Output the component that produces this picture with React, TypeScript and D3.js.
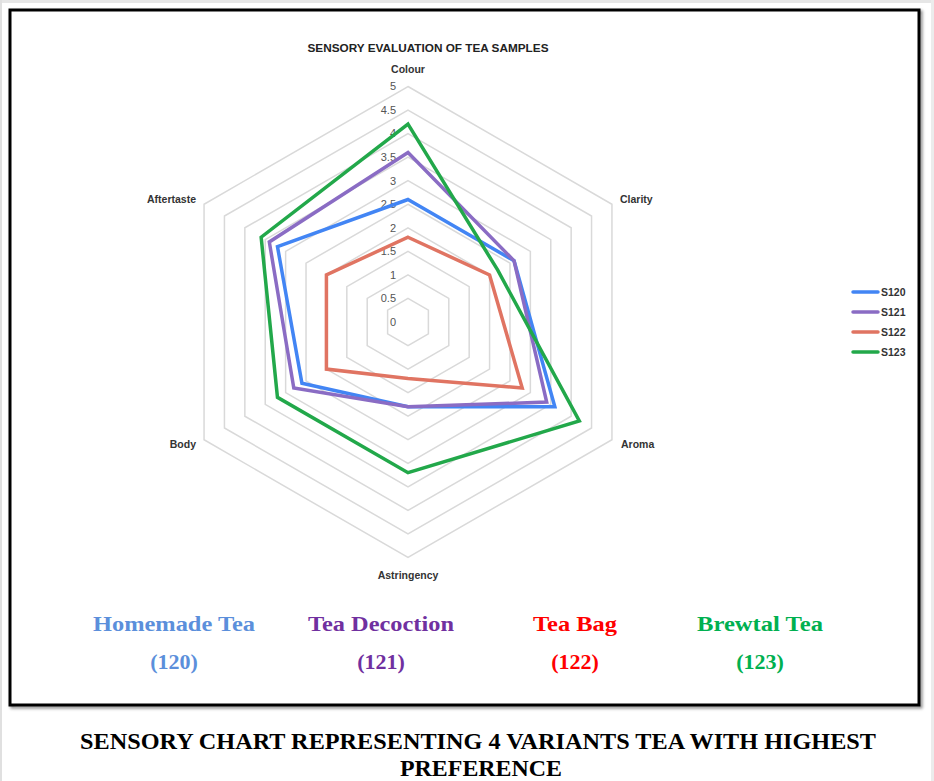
import React from "react";
import * as d3 from "d3";

const axes = ["Colour", "Clarity", "Aroma", "Astringency", "Body", "Aftertaste"];
const seriesNames = ["S120", "S121", "S122", "S123"];
const s120 = [2.6, 2.6, 3.6, 1.8, 2.6, 3.2];
const s121 = [3.6, 2.6, 3.4, 1.8, 2.8, 3.4];
const s122 = [1.8, 2.0, 2.8, 1.2, 2.0, 2.0];
const s123 = [4.2, 2.2, 4.2, 3.2, 3.2, 3.6];
const seriesValues = [s120, s121, s122, s123];
const seriesColors = ["#4285F4", "#8A6CC4", "#E07462", "#22A84A"];
const tickValues = [0, 0.5, 1, 1.5, 2, 2.5, 3, 3.5, 4, 4.5, 5];
const variantNames = ["Homemade Tea", "Tea Decoction", "Tea Bag", "Brewtal Tea"];
const variantCodes = ["(120)", "(121)", "(122)", "(123)"];
const variantColors = ["#5B8FDB", "#7030A0", "#FF0000", "#00B050"];

export default function App() {
  const W = 934, H = 781;
  const cx = 408, cy = 322;
  const r = d3.scaleLinear().domain([0, 5]).range([0, 235.5]);
  const angle = d3.scalePoint<string>().domain(axes).range([0, (2 * Math.PI * 5) / 6]);
  const pt = (ax: string, v: number): [number, number] => {
    const a = angle(ax)!;
    return [cx + r(v) * Math.sin(a), cy - r(v) * Math.cos(a)];
  };
  const closed = d3.line<[number, number]>().curve(d3.curveLinearClosed);

  const gridLevels = tickValues.filter((t) => t > 0);
  const labelPos: Record<string, { x: number; y: number; anchor: string }> = {
    Colour: { x: 408, y: 69, anchor: "middle" },
    Clarity: { x: 620, y: 199, anchor: "start" },
    Aroma: { x: 621, y: 444, anchor: "start" },
    Astringency: { x: 408, y: 575, anchor: "middle" },
    Body: { x: 196, y: 444, anchor: "end" },
    Aftertaste: { x: 196, y: 199, anchor: "end" },
  };
  const variantX = [174, 381, 575, 760];
  const variantW = [162, 146, 84, 126];

  return (
    <svg
      width={W}
      height={H}
      viewBox={`0 0 ${W} ${H}`}
      style={{ position: "fixed", left: 0, top: 0, background: "#fff" }}
    >
      <defs>
        <filter id="sh" x="-5%" y="-5%" width="110%" height="110%">
          <feGaussianBlur stdDeviation="1.5" />
        </filter>
      </defs>
      <rect x={0} y={0} width={W} height={3} fill="#e6e6e6" />
      <rect x={0} y={0} width={2} height={H} fill="#e0e0e0" />
      <rect x={931} y={0} width={3} height={H} fill="#ececec" />
      {/* frame */}
      <rect x={12} y={12} width={909} height={695} fill="none" stroke="#888" strokeWidth={3} filter="url(#sh)" />
      <rect x={10} y={10} width={909} height={695} fill="#fff" stroke="#000" strokeWidth={3} />

      {/* chart title */}
      <text x={428} y={52} textAnchor="middle" fontFamily="Arial, Liberation Sans, sans-serif" fontWeight="bold" fontSize={10.5} fill="#222" textLength={241} lengthAdjust="spacingAndGlyphs">
        SENSORY EVALUATION OF TEA SAMPLES
      </text>

      {/* grid */}
      {gridLevels.map((lv) => (
        <path key={lv} d={closed(axes.map((a) => pt(a, lv)))!} fill="none" stroke="#d9d9d9" strokeWidth={1.5} />
      ))}

      {/* tick labels */}
      {tickValues.map((t) => (
        <text key={t} x={396} y={cy - r(t)} dy="0.35em" textAnchor="end" fontFamily="Arial, Liberation Sans, sans-serif" fontSize={11} fill="#555">
          {t}
        </text>
      ))}

      {/* series */}
      {seriesValues.map((vals, i) => (
        <path
          key={seriesNames[i]}
          d={closed(axes.map((a, j) => pt(a, vals[j])))!}
          fill="none"
          stroke={seriesColors[i]}
          strokeWidth={3.5}
          strokeLinejoin="miter"
        />
      ))}

      {/* axis labels */}
      {axes.map((a) => (
        <text key={a} x={labelPos[a].x} y={labelPos[a].y} dy="0.35em" textAnchor={labelPos[a].anchor as any} fontFamily="Arial, Liberation Sans, sans-serif" fontWeight="bold" fontSize={10.5} fill="#333">
          {a}
        </text>
      ))}

      {/* legend */}
      {seriesNames.map((n, i) => (
        <g key={n} transform={`translate(853, ${292 + i * 20})`}>
          <line x1={0} x2={25} y1={0} y2={0} stroke={seriesColors[i]} strokeWidth={3.5} strokeLinecap="round" />
          <text x={28} y={0} dy="0.35em" fontFamily="Arial, Liberation Sans, sans-serif" fontWeight="bold" fontSize={10.5} fill="#333">
            {n}
          </text>
        </g>
      ))}

      {/* variant labels */}
      {variantNames.map((n, i) => (
        <g key={n}>
          <text x={variantX[i]} y={631} textAnchor="middle" fontFamily="Liberation Serif, Times New Roman, serif" fontWeight="bold" fontSize={22} fill={variantColors[i]} textLength={variantW[i]} lengthAdjust="spacingAndGlyphs">
            {n}
          </text>
          <text x={variantX[i]} y={669} textAnchor="middle" fontFamily="Liberation Serif, Times New Roman, serif" fontWeight="bold" fontSize={22} fill={variantColors[i]}>
            {variantCodes[i]}
          </text>
        </g>
      ))}

      {/* caption */}
      <text x={478} y={749} textAnchor="middle" fontFamily="Liberation Serif, Times New Roman, serif" fontWeight="bold" fontSize={24} fill="#000" textLength={796} lengthAdjust="spacingAndGlyphs">
        SENSORY CHART REPRESENTING 4 VARIANTS TEA WITH HIGHEST
      </text>
      <text x={481} y={776} textAnchor="middle" fontFamily="Liberation Serif, Times New Roman, serif" fontWeight="bold" fontSize={23} fill="#000" textLength={162} lengthAdjust="spacingAndGlyphs">
        PREFERENCE
      </text>
    </svg>
  );
}
